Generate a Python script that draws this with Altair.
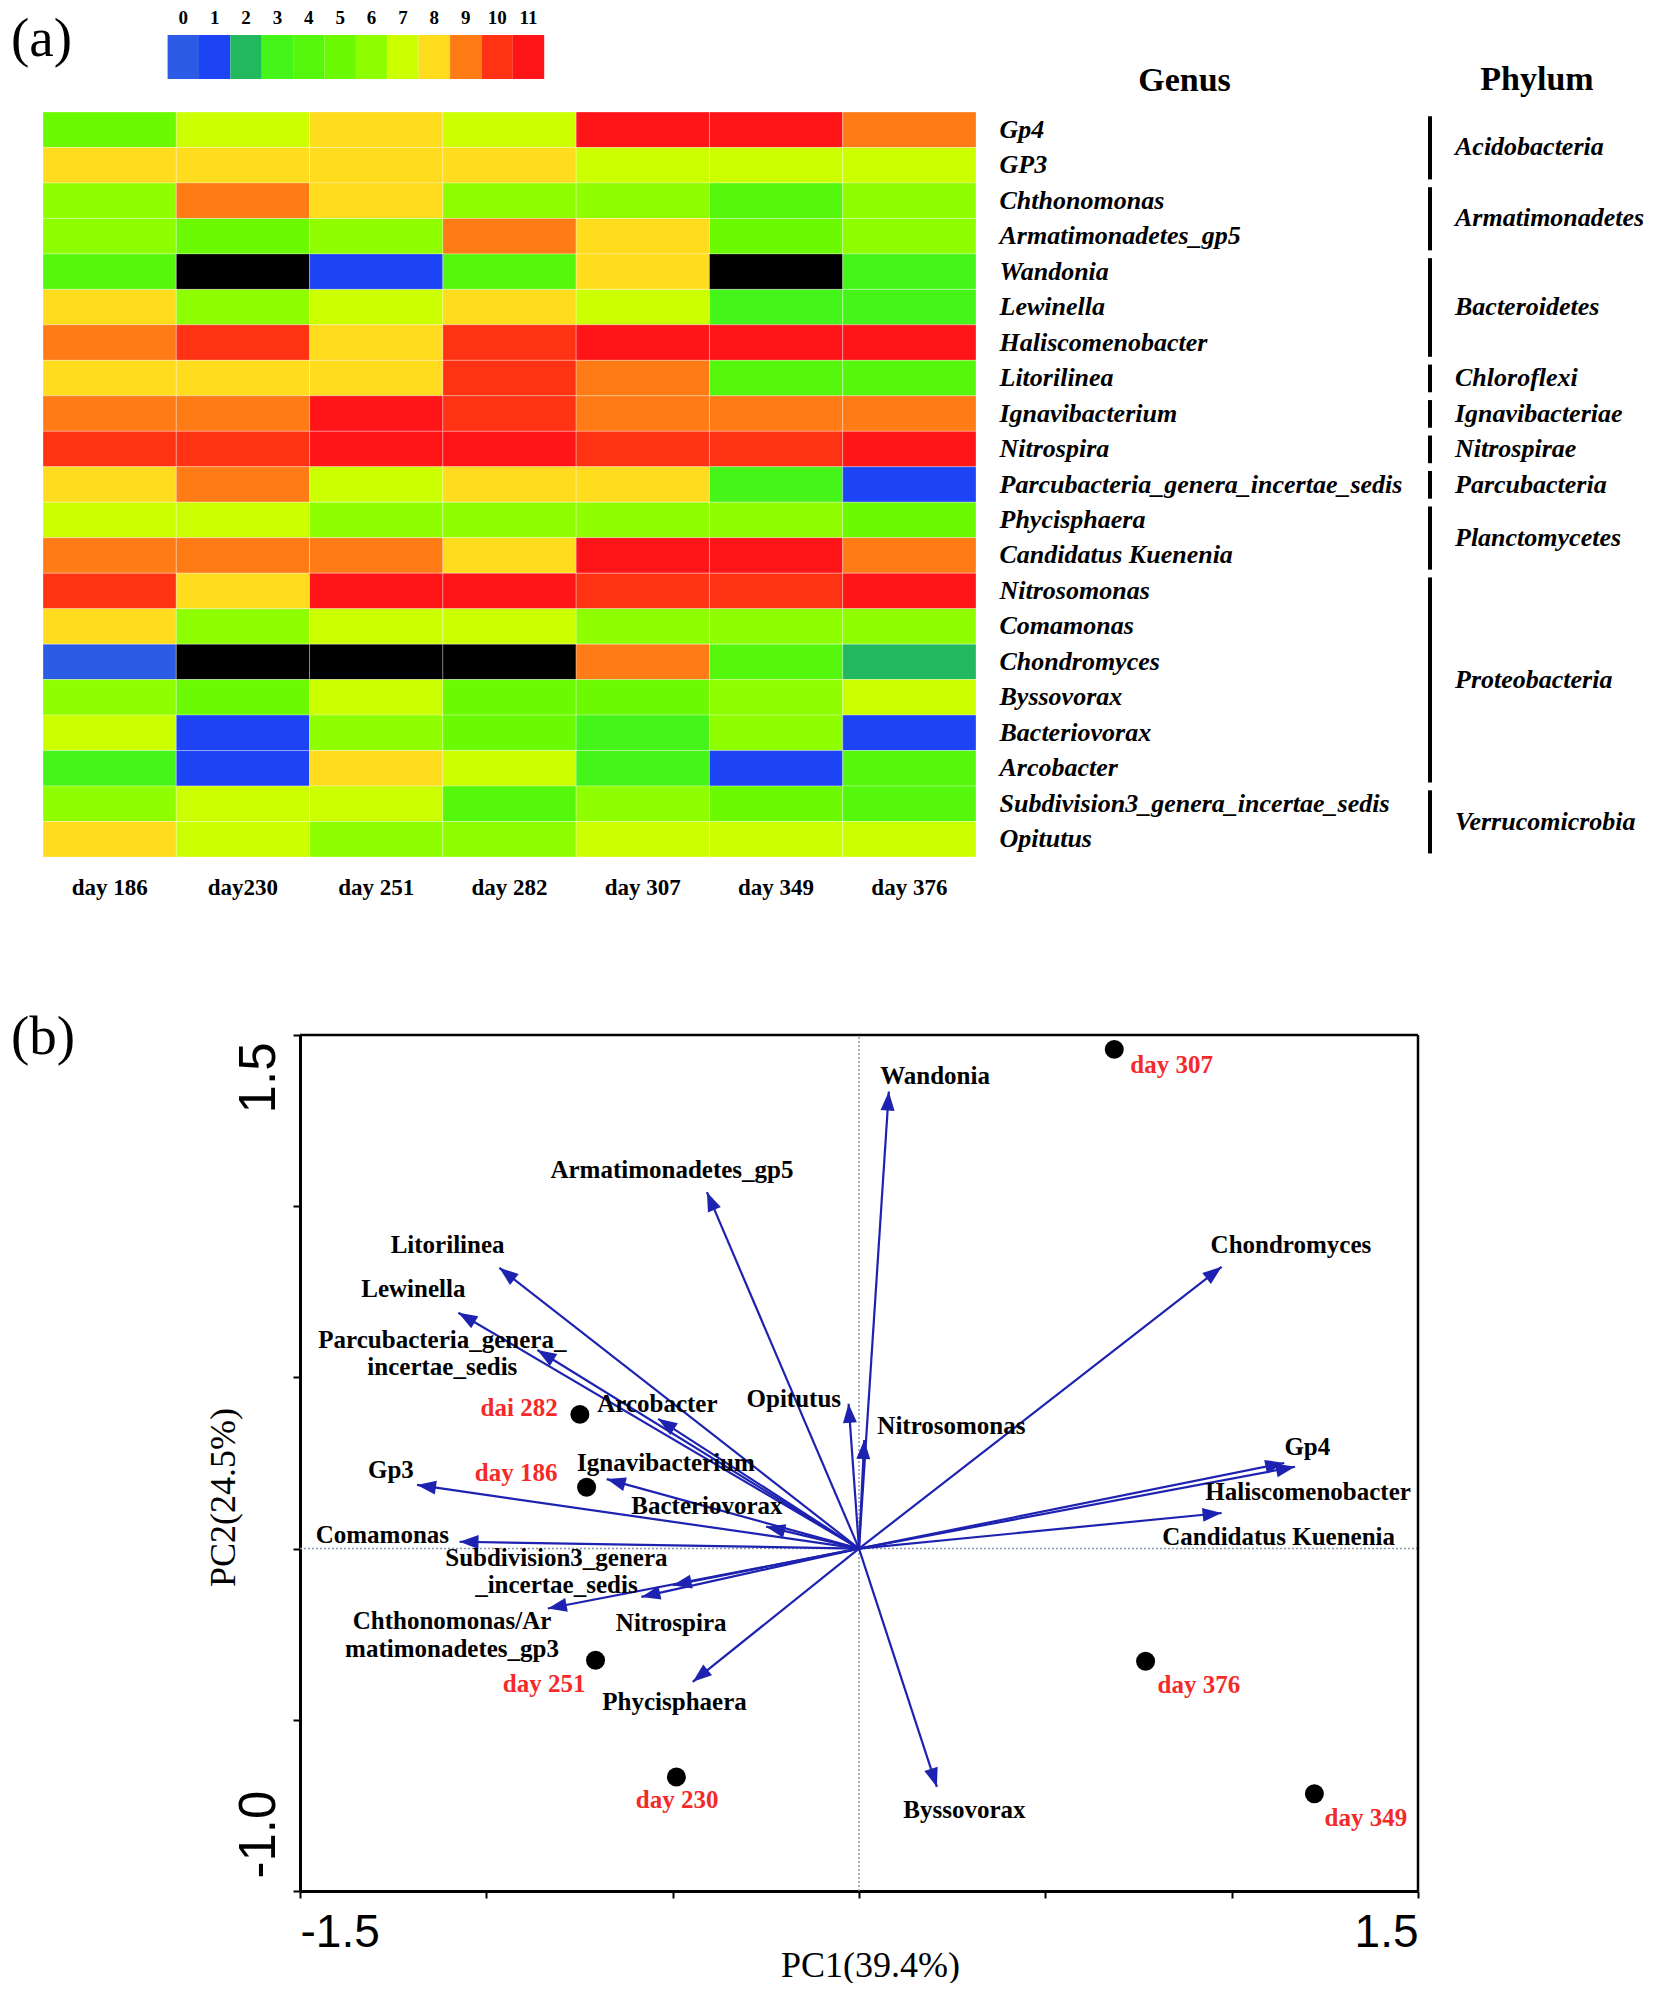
import math
import altair as alt
import pandas as pd

SERIF = "Liberation Serif"
SANS = "Liberation Sans"
NARROW = "Liberation Sans Narrow, Arial Narrow, Liberation Sans"

# ---------------- data: heatmap (a) ----------------
days = ["day 186", "day230", "day 251", "day 282", "day 307", "day 349", "day 376"]
genera = ["Gp4", "GP3", "Chthonomonas", "Armatimonadetes_gp5", "Wandonia", "Lewinella",
          "Haliscomenobacter", "Litorilinea", "Ignavibacterium", "Nitrospira",
          "Parcubacteria_genera_incertae_sedis", "Phycisphaera", "Candidatus Kuenenia",
          "Nitrosomonas", "Comamonas", "Chondromyces", "Byssovorax", "Bacteriovorax",
          "Arcobacter", "Subdivision3_genera_incertae_sedis", "Opitutus"]
N = None  # black cells (not detected)
levels_by_genus = [
    [5, 7, 8, 7, 11, 11, 9],
    [8, 8, 8, 8, 7, 7, 7],
    [6, 9, 8, 6, 6, 4, 6],
    [6, 5, 6, 9, 8, 5, 6],
    [4, N, 1, 4, 8, N, 3],
    [8, 6, 7, 8, 7, 3, 3],
    [9, 10, 8, 10, 11, 11, 11],
    [8, 8, 8, 10, 9, 4, 4],
    [9, 9, 11, 10, 9, 9, 9],
    [10, 10, 11, 11, 10, 10, 11],
    [8, 9, 7, 8, 8, 3, 1],
    [7, 7, 6, 6, 6, 6, 5],
    [9, 9, 9, 8, 11, 11, 9],
    [10, 8, 11, 11, 10, 10, 11],
    [8, 6, 7, 7, 6, 6, 6],
    [0, N, N, N, 9, 4, 2],
    [6, 5, 7, 5, 5, 6, 7],
    [7, 1, 6, 5, 3, 6, 1],
    [3, 1, 8, 7, 3, 1, 4],
    [6, 7, 7, 4, 6, 5, 4],
    [8, 7, 6, 6, 7, 7, 7],
]
level_names = [str(i) for i in range(12)]
level_colors = ["#2c5ce6", "#1d44f4", "#22b85e", "#45f51a", "#55f80c", "#6cfa02",
                "#8fff00", "#ccff00", "#ffdc1e", "#ff7b15", "#ff3214", "#ff1418"]

phyla = ["Acidobacteria", "Armatimonadetes", "Bacteroidetes", "Chloroflexi", "Ignavibacteriae",
         "Nitrospirae", "Parcubacteria", "Planctomycetes", "Proteobacteria", "Verrucomicrobia"]
phylum_first_row = [0, 2, 4, 7, 8, 9, 10, 11, 13, 19]
phylum_last_row = [1, 3, 6, 7, 8, 9, 10, 12, 18, 20]

# ---------------- data: PCA biplot (b) ----------------
species = ["Wandonia", "Armatimonadetes_gp5", "Litorilinea", "Lewinella",
           "Parcubacteria_genera_\nincertae_sedis", "Arcobacter", "Opitutus", "Nitrosomonas",
           "Ignavibacterium", "Gp3", "Bacteriovorax", "Comamonas",
           "Subdivision3_genera\n_incertae_sedis", "Nitrospira",
           "Chthonomonas/Ar\nmatimonadetes_gp3", "Phycisphaera", "Byssovorax", "Chondromyces",
           "Gp4", "Haliscomenobacter", "Candidatus Kuenenia"]
species_pc1 = [0.080, -0.408, -0.965, -1.075, -0.863, -0.539, -0.028, 0.014, -0.677, -1.186,
               -0.249, -1.072, -0.584, -0.500, -0.835, -0.446, 0.209, 0.973, 1.141, 1.170, 0.973]
species_pc2 = [1.335, 1.041, 0.820, 0.689, 0.580, 0.379, 0.423, 0.317, 0.203, 0.186,
               0.064, 0.020, -0.141, -0.107, -0.175, -0.389, -0.696, 0.823, 0.250, 0.239, 0.104]
# label anchor (centre of the first text line)
species_label_pc1 = [0.204, -0.502, -1.104, -1.196, -1.118, -0.541, -0.175, 0.248, -0.518, -1.256,
                     -0.408, -1.279, -0.812, -0.504, -1.092, -0.495, 0.283, 1.159, 1.203, 1.205, 1.126]
species_label_pc2 = [1.380, 1.106, 0.888, 0.757, 0.610, 0.421, 0.437, 0.359, 0.250, 0.230,
                     0.125, 0.041, -0.026, -0.217, -0.212, -0.448, -0.763, 0.888, 0.297, 0.166, 0.035]

samples = ["day 186", "day 230", "day 251", "dai 282", "day 307", "day 349", "day 376"]
sample_pc1 = [-0.731, -0.490, -0.707, -0.749, 0.685, 1.222, 0.769]
sample_pc2 = [0.179, -0.667, -0.326, 0.392, 1.458, -0.716, -0.329]
sample_label_pc1 = [-0.920, -0.488, -0.845, -0.912, 0.839, 1.360, 0.912]
sample_label_pc2 = [0.220, -0.735, -0.394, 0.412, 1.411, -0.786, -0.397]

pc_ticks = [-1.5, -1.0, -0.5, 0.0, 0.5, 1.0, 1.5]

# ---------------- layout (pixels) ----------------
GUT_A, CB_W, CB_H = 159.6, 376.6, 44
GUT_B, HM_W, HM_H = 35, 933, 745
PH_X = 1422
GUT_C, PCA_W, PCA_H = 292, 1118, 856
ROW_GAP = 33
SPACER_H = 112

# ---------------- tables ----------------
hm_rows = []
for g, vals in zip(genera, levels_by_genus):
    for d, v in zip(days, vals):
        hm_rows.append({"genus": g, "day": d, "level": "NA" if v is None else str(v)})
hm_df = pd.DataFrame(hm_rows)
cb_df = pd.DataFrame({"level": level_names})

color_scale = alt.Scale(domain=level_names + ["NA"], range=level_colors + ["#000000"])

ph_df = pd.DataFrame({
    "phylum": phyla,
    "top": [f + 0.12 for f in phylum_first_row],
    "bottom": [l + 0.9 for l in phylum_last_row],
    "mid": [(f + l + 1) / 2 for f, l in zip(phylum_first_row, phylum_last_row)],
})

px_x = PCA_W / 3.0
px_y = PCA_H / 2.5
arrow_df = pd.DataFrame({
    "name": species, "pc1": species_pc1, "pc2": species_pc2,
    "lx": species_label_pc1, "ly": species_label_pc2,
})
arrow_df["ox"] = 0.0
arrow_df["oy"] = 0.0
arrow_df["angle"] = [
    (math.degrees(math.atan2(a * px_x, b * px_y)) + 360) % 360
    for a, b in zip(species_pc1, species_pc2)
]
sample_df = pd.DataFrame({
    "name": samples, "pc1": sample_pc1, "pc2": sample_pc2,
    "lx": sample_label_pc1, "ly": sample_label_pc2,
})

one = pd.DataFrame({"t": [""]})

# ---------------- row A: panel label + colour key ----------------
colorbar = alt.Chart(cb_df).mark_rect().encode(
    x=alt.X("level:N", sort=level_names,
            scale=alt.Scale(paddingInner=0, paddingOuter=0, range=[GUT_A, GUT_A + CB_W]),
            axis=alt.Axis(orient="top", title=None, labelFont=SERIF, labelFontWeight="bold",
                          labelFontSize=19, labelAngle=0, ticks=False, tickSize=0,
                          domain=False, labelPadding=8, labelColor="black")),
    color=alt.Color("level:N", scale=color_scale, legend=None),
)
label_a = alt.Chart(pd.DataFrame({"t": ["(a)"]})).mark_text(
    font=SERIF, fontSize=55, align="left", baseline="middle", color="black"
).encode(text="t:N", x=alt.value(3), y=alt.value(4))
row_a = alt.layer(colorbar, label_a).properties(width=GUT_A + CB_W, height=CB_H)

# ---------------- row B: heatmap + genus + phylum ----------------
heat = alt.Chart(hm_df).mark_rect(stroke="white", strokeWidth=0.6, strokeOpacity=0.5).encode(
    x=alt.X("day:N", sort=days,
            scale=alt.Scale(paddingInner=0, paddingOuter=0, range=[GUT_B, GUT_B + HM_W]),
            axis=alt.Axis(orient="bottom", title=None, labelFont=SERIF, labelFontWeight="bold",
                          labelFontSize=23, labelColor="black", labelAngle=0, ticks=False,
                          tickSize=0, domain=False, labelPadding=19)),
    y=alt.Y("genus:N", sort=genera, scale=alt.Scale(paddingInner=0, paddingOuter=0),
            axis=alt.Axis(orient="right", title="Genus", titleAngle=0, titleX=208, titleY=-32,
                          titleAlign="center", titleBaseline="middle", titleFont=SERIF,
                          titleFontSize=34, titleFontWeight="bold", titleColor="black",
                          labelFont=SERIF, labelFontStyle="italic", labelFontWeight="bold",
                          labelFontSize=26, labelColor="black", labelAlign="left",
                          labelPadding=23, ticks=False, tickSize=0, domain=False,
                          labelLimit=700)),
    color=alt.Color("level:N", scale=color_scale, legend=None),
)

row_scale = alt.Scale(domain=[0, 21], reverse=True, nice=False, zero=False)
ph_rules = alt.Chart(ph_df).mark_rule(color="black", strokeWidth=4).encode(
    x=alt.value(PH_X),
    y=alt.Y("top:Q", scale=row_scale, axis=None),
    y2="bottom:Q",
)
ph_text = alt.Chart(ph_df).mark_text(
    font=SERIF, fontStyle="italic", fontWeight="bold", fontSize=26, align="left",
    baseline="middle", dx=25, color="black"
).encode(x=alt.value(PH_X), y=alt.Y("mid:Q", scale=row_scale, axis=None), text="phylum:N")
ph_head = alt.Chart(pd.DataFrame({"t": ["Phylum"]})).mark_text(
    font=SERIF, fontWeight="bold", fontSize=34, align="center", baseline="middle",
    color="black"
).encode(text="t:N", x=alt.value(PH_X + 107), y=alt.value(-32))

row_b = alt.layer(heat, ph_rules, ph_text, ph_head).resolve_scale(y="independent").properties(
    width=GUT_B + HM_W, height=HM_H)

spacer = alt.Chart(one).mark_text().encode(text="t:N", x=alt.value(0), y=alt.value(0)).properties(
    width=1, height=SPACER_H)

# ---------------- row C: PCA biplot ----------------
xs = alt.Scale(domain=[-1.5, 1.5], nice=False, zero=False, range=[GUT_C, GUT_C + PCA_W])
ys = alt.Scale(domain=[-1.0, 1.5], nice=False, zero=False)
x_axis = alt.Axis(
    values=pc_ticks, grid=False, domainColor="black", domainWidth=3, tickColor="black",
    tickWidth=2, tickSize=7,
    labelExpr="datum.value == -1.5 ? '-1.5' : (datum.value == 1.5 ? '1.5' : '')",
    labelFont=SANS, labelFontSize=46, labelColor="black",
    labelAlign={"condition": {"test": "datum.value < 0", "value": "left"}, "value": "right"},
    labelBaseline="top", labelPadding=12, labelFlush=False, labelOverlap=False,
    title="PC1(39.4%)", titleFont=SERIF, titleFontSize=36, titleFontWeight="normal",
    titleColor="black", titleX=GUT_C + 570, titleY=74, titleAlign="center",
    titleBaseline="middle",
)
y_axis = alt.Axis(
    values=pc_ticks[1:], grid=False, domainColor="black", domainWidth=3, tickColor="black",
    tickWidth=2, tickSize=7, offset=-GUT_C,
    labelExpr="datum.value == 1.5 ? '1.5' : (datum.value == -1 ? '-1.0' : '')",
    labelFont=NARROW, labelFontSize=51, labelColor="black", labelAngle=270,
    labelAlign={"condition": {"test": "datum.value > 0", "value": "right"}, "value": "left"},
    labelOffset={"condition": {"test": "datum.value > 0", "value": 7}, "value": -13},
    labelBaseline="middle", labelPadding=34, labelFlush=False, labelOverlap=False,
    title="PC2(24.5%)", titleFont=SERIF, titleFontSize=36, titleFontWeight="normal",
    titleColor="black", titleAngle=270, titleX=-77, titleY=462, titleAlign="center",
    titleBaseline="middle",
)

BLUE = "#1e22b0"
frame_top = alt.Chart(one).mark_rule(color="black", strokeWidth=2.5).encode(
    x=alt.XDatum(-1.5, scale=xs, axis=x_axis), x2=alt.X2Datum(1.5),
    y=alt.YDatum(1.5, scale=ys, axis=y_axis))
frame_right = alt.Chart(one).mark_rule(color="black", strokeWidth=2.5).encode(
    x=alt.XDatum(1.5, scale=xs, axis=x_axis),
    y=alt.YDatum(-1.0, scale=ys, axis=y_axis), y2=alt.Y2Datum(1.5))
zero_v = alt.Chart(one).mark_rule(color="#8a9bb0", strokeDash=[2, 2], strokeWidth=1.5).encode(
    x=alt.XDatum(0.0, scale=xs, axis=x_axis),
    y=alt.YDatum(-1.0, scale=ys, axis=y_axis), y2=alt.Y2Datum(1.5))
zero_h = alt.Chart(one).mark_rule(color="#8a9bb0", strokeDash=[2, 2], strokeWidth=1.5).encode(
    x=alt.XDatum(-1.5, scale=xs, axis=x_axis), x2=alt.X2Datum(1.5),
    y=alt.YDatum(0.0, scale=ys, axis=y_axis))

arrows = alt.Chart(arrow_df).mark_rule(color=BLUE, strokeWidth=2.2).encode(
    x=alt.X("ox:Q", scale=xs, axis=x_axis), y=alt.Y("oy:Q", scale=ys, axis=y_axis),
    x2="pc1:Q", y2="pc2:Q",
)
heads = alt.Chart(arrow_df).mark_point(
    shape="M0,0L-0.7,1.9L0.7,1.9Z", filled=True, size=400, color=BLUE, opacity=1, strokeWidth=0
).encode(
    x=alt.X("pc1:Q", scale=xs, axis=x_axis), y=alt.Y("pc2:Q", scale=ys, axis=y_axis),
    angle=alt.Angle("angle:Q", scale=None),
)
arrow_labels = alt.Chart(arrow_df).mark_text(
    font=SERIF, fontWeight="bold", fontSize=25, color="black", lineBreak="\n", lineHeight=27.5,
    align="center", baseline="middle"
).encode(x=alt.X("lx:Q", scale=xs, axis=x_axis), y=alt.Y("ly:Q", scale=ys, axis=y_axis),
         text="name:N")

dots = alt.Chart(sample_df).mark_circle(size=360, color="black", opacity=1).encode(
    x=alt.X("pc1:Q", scale=xs, axis=x_axis), y=alt.Y("pc2:Q", scale=ys, axis=y_axis))
dot_labels = alt.Chart(sample_df).mark_text(
    font=SERIF, fontWeight="bold", fontSize=25, color="#f42a2a", align="center",
    baseline="middle"
).encode(x=alt.X("lx:Q", scale=xs, axis=x_axis), y=alt.Y("ly:Q", scale=ys, axis=y_axis),
         text="name:N")

label_b = alt.Chart(pd.DataFrame({"t": ["(b)"]})).mark_text(
    font=SERIF, fontSize=55, align="left", baseline="middle", color="black"
).encode(text="t:N", x=alt.value(3), y=alt.value(2))

row_c = alt.layer(zero_v, zero_h, frame_top, frame_right, arrows, heads, arrow_labels,
                  dots, dot_labels, label_b).properties(width=GUT_C + PCA_W, height=PCA_H)

chart = alt.vconcat(row_a, row_b, spacer, row_c, spacing=ROW_GAP, bounds="flush").properties(
    padding=0
).configure(font=SERIF).configure_view(strokeWidth=0, stroke="transparent")

chart.save("out.html", embed_options={"renderer": "svg", "actions": False})
